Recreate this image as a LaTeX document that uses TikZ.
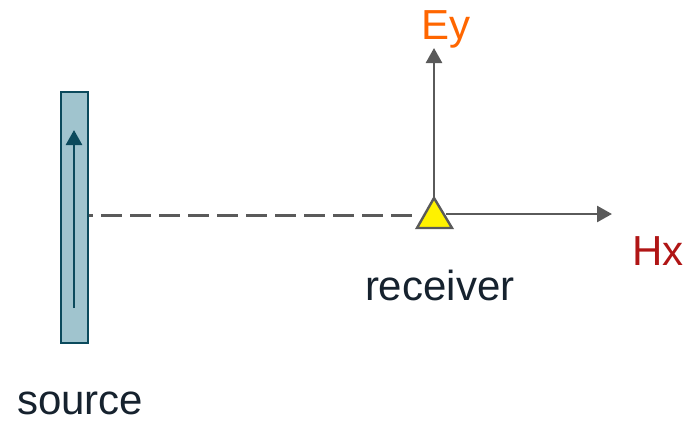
\documentclass[tikz,border=0pt]{standalone}
\usepackage{fontspec}
\setmainfont{Liberation Sans}
\usetikzlibrary{arrows.meta}
\definecolor{srcfill}{HTML}{A0C4CE}
\definecolor{srcline}{HTML}{0B4A5C}
\definecolor{axisgrey}{HTML}{5A5A5A}
\definecolor{eyorange}{HTML}{FF6600}
\definecolor{hxred}{HTML}{B01515}
\definecolor{txtdark}{HTML}{16222E}
\tikzset{
  srcbox/.style={draw=srcline, fill=srcfill, line width=2.8pt, inner sep=0pt},
  axisarrow/.style={draw=axisgrey, line width=2.6pt, -{Triangle[width=16pt,length=15pt]}},
  pathline/.style={draw=axisgrey, line width=2.8pt, dash pattern=on 21pt off 8pt, dash phase=17pt},
  rxtri/.style={draw=axisgrey, fill=yellow, line width=2.4pt, line join=miter},
  lbl/.style={anchor=base west, inner sep=0pt, outer sep=0pt, font=\fontsize{42}{48}\selectfont},
}
\begin{document}
\begin{tikzpicture}[x=1pt,y=-1pt]
\useasboundingbox (0,0) rectangle (698,424);
% source
\node[srcbox, minimum width=27pt, minimum height=251pt] (src) at (74.5,217.5) {};
\coordinate (srcbot) at (74,308);
\coordinate (srctop) at (74,130);
\draw[draw=srcline, line width=2.6pt, -{Triangle[width=16pt,length=15pt]}] (srcbot) -- (srctop);
% receiver
\coordinate (rxapex) at (434,198);
\coordinate (rxl) at (417,228);
\coordinate (rxr) at (452,228);
\coordinate (rxleft) at (419,215.5);
\coordinate (rxright) at (446,214);
\coordinate (eytip) at (434,48);
\coordinate (hxtip) at (612,214);
\draw[pathline] (src.east |- 0,215.5) -- (rxleft);
\draw[axisarrow] (rxapex) -- (eytip);
\draw[axisarrow] (rxright) -- (hxtip);
\draw[rxtri] (rxapex) -- (rxr) -- (rxl) -- cycle;
% labels
\node[lbl, text=eyorange] (ey) at (421,39) {Ey};
\node[lbl, text=hxred] (hx) at (632,265) {Hx};
\node[lbl, text=txtdark] (rx) at (365,300) {receiver};
\node[lbl, text=txtdark] (srclbl) at (17,414) {source};
\end{tikzpicture}
\end{document}
